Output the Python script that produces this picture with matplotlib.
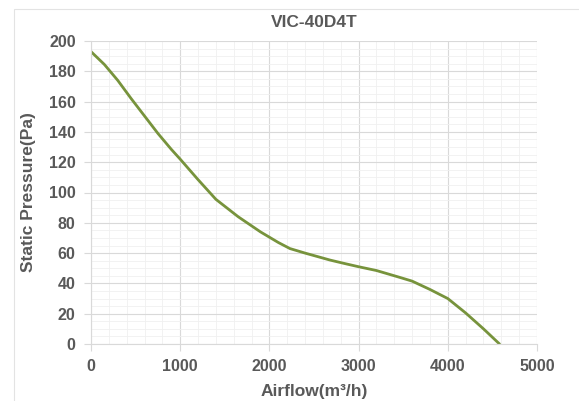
import matplotlib
matplotlib.use("Agg")
import matplotlib.pyplot as plt
from matplotlib.ticker import MultipleLocator
from matplotlib.patches import Rectangle

title = "VIC-40D4T"
x_label = "Airflow(m³/h)"
y_label = "Static Pressure(Pa)"

airflow = [0, 150, 300, 450, 600, 750, 900, 1000, 1200, 1400, 1650, 1900,
           2100, 2230, 2400, 2680, 2830, 3000, 3200, 3460, 3600, 3800, 4000,
           4200, 4400, 4580]
pressure = [193, 184.5, 174, 162, 150.5, 139, 128.5, 122, 108.5, 95.5, 84, 74,
            67, 63, 60, 55.4, 53.3, 51, 48.5, 44, 41.5, 36, 30,
            20.5, 10, 0]

x_ticks = [0, 1000, 2000, 3000, 4000, 5000]
y_ticks = [0, 20, 40, 60, 80, 100, 120, 140, 160, 180, 200]

plt.rcParams['font.family'] = ['Liberation Sans', 'DejaVu Sans']
txt = '#595959'

fig = plt.figure(figsize=(5.79, 4.01), dpi=100)
fig.patches.append(Rectangle((14/579, -0.1), 1.2, 1 - 9/401 + 0.1,
                             transform=fig.transFigure, fill=False,
                             edgecolor='#e3e3e3', linewidth=0.8))
ax = fig.add_axes([91/579, 1 - 344/401, (537 - 91)/579, (344 - 41)/401])

ax.plot(airflow, pressure, color='#77933C', linewidth=2.0,
        solid_capstyle='round', solid_joinstyle='round')

ax.set_xlim(0, 5000)
ax.set_ylim(0, 200)
ax.set_xticks(x_ticks)
ax.set_yticks(y_ticks)
ax.xaxis.set_minor_locator(MultipleLocator(200))
ax.yaxis.set_minor_locator(MultipleLocator(5))
ax.grid(which='major', color='#d9d9d9', linewidth=0.8)
ax.grid(which='minor', color='#f0f0f0', linewidth=0.6)
ax.set_axisbelow(True)
for s in ax.spines.values():
    s.set_visible(False)
ax.spines['left'].set_visible(True)
ax.spines['left'].set_color('#d9d9d9')
ax.spines['bottom'].set_visible(True)
ax.spines['bottom'].set_color('#d9d9d9')
ax.tick_params(which='major', direction='out', length=5, color='#d9d9d9',
               labelsize=11.5, labelcolor=txt, pad=6)
ax.tick_params(which='minor', length=0)
for lab in ax.get_xticklabels() + ax.get_yticklabels():
    lab.set_fontweight('bold')

ax.set_title(title, fontsize=12.5, fontweight='bold', color=txt, pad=10)
ax.set_xlabel(x_label, fontsize=12.5, fontweight='bold', color=txt, labelpad=7)
ax.set_ylabel(y_label, fontsize=12.5, fontweight='bold', color=txt, labelpad=9)

fig.savefig('out.png', dpi=100)
